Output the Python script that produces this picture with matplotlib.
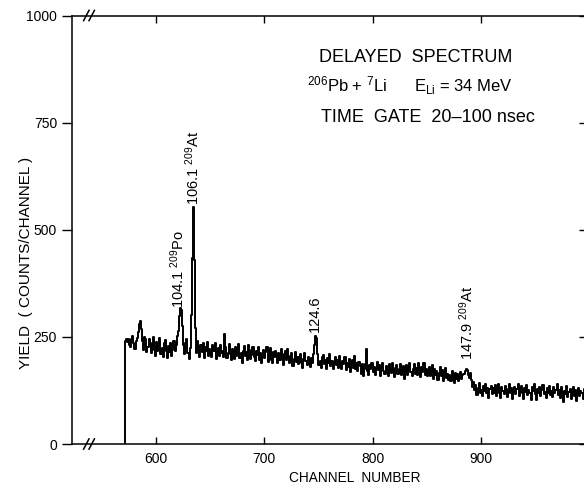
import numpy as np
import matplotlib
matplotlib.use("Agg")
import matplotlib.pyplot as plt

plt.rcParams["font.family"] = ["Liberation Sans", "DejaVu Sans"]
plt.rcParams["mathtext.default"] = "regular"

W, H = 584, 491

# delayed spectrum, one value per channel starting at channel 571
first_channel = 571
counts = [
    240, 244, 238, 246, 232, 226, 244, 252, 236, 222,
    240, 248, 262, 280, 286, 268, 240, 220, 250, 246,
    214, 226, 244, 236, 212, 230, 250, 220, 206, 238,
    216, 230, 248, 210, 224, 204, 236, 242, 218, 200,
    228, 214, 236, 206, 220, 240, 216, 232, 252, 264,
    298, 318, 312, 276, 230, 210, 236, 246, 212, 198,
    224, 300, 433, 553, 430, 270, 212, 240, 226, 204,
    230, 214, 236, 200, 226, 218, 238, 206, 222, 212,
    202, 230, 216, 236, 198, 214, 224, 206, 232, 212,
    218, 204, 256, 226, 200, 212, 234, 210, 196, 222,
    214, 198, 226, 206, 222, 234, 200, 212, 190, 218,
    228, 206, 214, 196, 232, 220, 198, 208, 226, 204,
    194, 216, 208, 226, 196, 212, 188, 204, 220, 200,
    214, 226, 192, 208, 224, 196, 190, 214, 202, 218,
    206, 190, 212, 196, 222, 204, 184, 210, 218, 196,
    222, 206, 188, 200, 212, 182, 198, 214, 192, 204,
    186, 202, 210, 190, 178, 198, 212, 194, 184, 204,
    196, 180, 200, 190, 210, 230, 252, 248, 210, 184,
    194, 178, 202, 208, 186, 196, 176, 200, 188, 210,
    182, 194, 174, 190, 204, 184, 196, 178, 206, 186,
    176, 194, 186, 202, 172, 190, 180, 198, 168, 186,
    196, 178, 206, 174, 188, 170, 192, 182, 164, 186,
    158, 176, 186, 222, 170, 162, 184, 174, 190, 168,
    180, 160, 176, 192, 172, 184, 158, 178, 188, 170,
    164, 182, 172, 158, 186, 176, 166, 190, 170, 156,
    178, 184, 164, 174, 186, 160, 170, 182, 152, 176,
    184, 162, 176, 190, 168, 158, 174, 186, 164, 178,
    160, 188, 172, 156, 180, 168, 190, 162, 174, 158,
    172, 180, 158, 168, 184, 152, 176, 162, 170, 150,
    166, 180, 158, 172, 146, 168, 178, 154, 164, 150,
    162, 148, 170, 156, 142, 166, 152, 164, 146, 158,
    168, 152, 160, 164, 170, 176, 172, 162, 154, 166,
    150, 132, 144, 126, 138, 114, 130, 142, 120, 126,
    112, 136, 124, 140, 118, 130, 108, 128, 136, 116,
    130, 118, 138, 112, 126, 140, 120, 108, 132, 124,
    116, 136, 128, 110, 122, 140, 118, 130, 104, 126,
    134, 116, 128, 140, 112, 124, 136, 118, 106, 130,
    122, 138, 114, 126, 118, 102, 132, 124, 140, 116,
    102, 128, 118, 134, 112, 126, 138, 116, 122, 108,
    130, 120, 136, 114, 124, 110, 132, 118, 126, 140,
    114, 126, 108, 132, 120, 98, 124, 116, 136, 110,
    122, 128, 104, 118, 134, 112, 126, 100, 120, 130,
    112, 124, 118, 106, 128, 120, 110, 126, 114, 122,
]

yticks = [0, 250, 500, 750, 1000]
xticks = [600, 700, 800, 900]

# peak labels: (channel, yield at label base, text)
peak_labels = [
    (620, 318, "104.1 $^{209}$Po"),
    (634, 558, "106.1 $^{209}$At"),
    (747, 262, "124.6"),
    (887, 196, "147.9 $^{209}$At"),
]


def px(x, y):
    return x / W, 1 - y / H


fig = plt.figure(figsize=(W / 100, H / 100), dpi=100)
ax = fig.add_axes([71.7 / W, 47 / H, (589 - 71.7) / W, (475.5 - 47) / H])

edges = first_channel + np.arange(len(counts) + 1)
vals = np.concatenate([[0], counts, [counts[-1]]])
xs = np.concatenate([[edges[0]], edges])
ax.step(xs, vals, where="post", color="black", lw=1.4)

ax.set_xlim(522, 1000)
ax.set_ylim(0, 1000)
ax.set_xticks(xticks)
ax.set_yticks(yticks)
ax.tick_params(axis="y", which="both", direction="out", length=7, width=1,
               labelsize=10, right=True)
ax.tick_params(axis="x", direction="in", length=5, width=1, labelsize=10,
               top=True, pad=6)
for sp in ax.spines.values():
    sp.set_linewidth(1.1)

# right ticks point inward
for t in ax.yaxis.get_major_ticks():
    t.tick2line.set_marker(matplotlib.lines.TICKLEFT)

# axis break marks
tr = ax.get_xaxis_transform()
for yb in (0, 1):
    for dx in (-2.5, 2.5):
        ax.plot([538 + dx - 2.5, 538 + dx + 2.5], [yb - 0.012, yb + 0.012],
                transform=tr, color="black", lw=1.1, clip_on=False)

for ch, y, txt in peak_labels:
    ax.text(ch, y, txt, rotation=90, ha="center", va="bottom", fontsize=10.5)

fig.text(*px(416, 58), "DELAYED  SPECTRUM", ha="center", va="center", fontsize=13)
fig.text(*px(307, 86), "$^{206}$Pb + $^{7}$Li      E$_{Li}$ = 34 MeV",
         ha="left", va="center", fontsize=12)
fig.text(*px(428, 118), "TIME  GATE  20\u2013100 nsec", ha="center", va="center",
         fontsize=13)

fig.text(*px(355, 478), "CHANNEL  NUMBER", ha="center", va="center", fontsize=9.8)
fig.text(*px(26, 263), "YIELD  ( COUNTS/CHANNEL )", ha="center", va="center",
         rotation=90, fontsize=11)

fig.savefig("out.png", dpi=100, facecolor="white")
